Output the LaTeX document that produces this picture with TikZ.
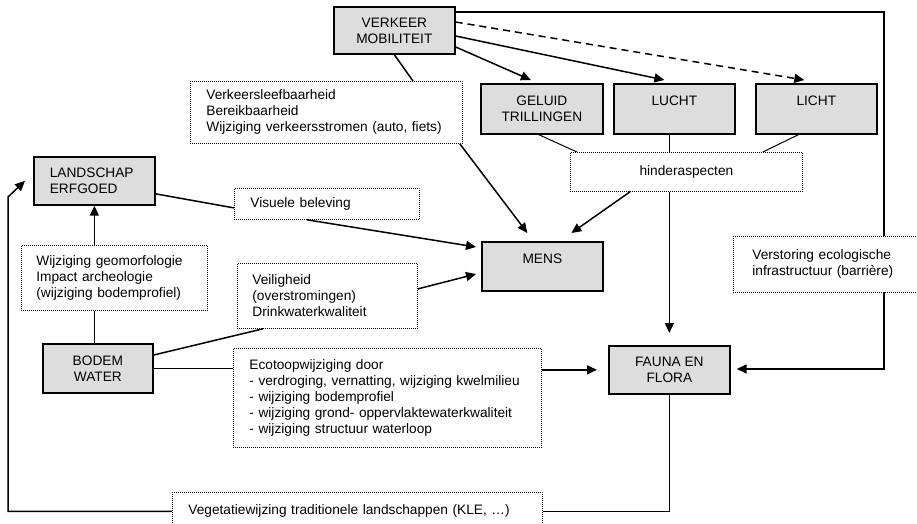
\documentclass[tikz,border=0pt]{standalone}
\usepackage{fontspec}
\setmainfont{Liberation Sans}
\usepackage{tikz}
\usetikzlibrary{calc, arrows.meta, positioning}

\definecolor{boxgray}{HTML}{DDDDDD}
\pgfdeclarelayer{bg}
\pgfsetlayers{bg,main}

\tikzset{
  box/.style={draw, line width=1.7pt, fill=boxgray, anchor=north west, align=center, inner sep=0pt},
  leftbox/.style={box, align=left, inner xsep=16pt},
  note/.style={draw, line width=0.8pt, dash pattern=on 0.8pt off 1.2pt, fill=white,
               anchor=north west, align=left, inner xsep=16pt, inner ysep=0pt},
  link/.style={line width=1.5pt},
  thinlink/.style={line width=1pt},
  arr/.style={link, -{Triangle[length=10pt,width=9pt]}},
}

\begin{document}
\begin{tikzpicture}[x=1pt, y=-1pt, font=\fontsize{13.7}{16}\selectfont]
           \useasboundingbox (0,0) rectangle (917,523);

           % main boxes
           \node[box, minimum width=121pt, minimum height=47pt] (verkeer) at (333,6) {VERKEER\\MOBILITEIT};
           \node[box, minimum width=122pt, minimum height=50pt] (geluid) at (480,83) {GELUID\\TRILLINGEN};
           \node[box, minimum width=121pt, minimum height=50pt] (lucht) at (613,83) {LUCHT\\~};
           \node[box, minimum width=121pt, minimum height=50pt] (licht) at (755,83) {LICHT\\~};
           \node[box, minimum width=121pt, minimum height=49pt] (mens) at (481,241) {MENS\\~};
           \node[leftbox, text width=89pt, minimum height=48pt] (landschap) at (33,156) {LANDSCHAP\\ERFGOED};
           \node[box, minimum width=110pt, minimum height=49pt] (bodem) at (42,343) {BODEM\\WATER};
           \node[box, minimum width=121pt, minimum height=48pt] (fauna) at (608,345) {FAUNA EN\\FLORA};

           % notes
           \node[note, text width=240pt, minimum height=62pt] (verkeernote) at (190,81)
                {Verkeersleefbaarheid\\Bereikbaarheid\\Wijziging verkeersstromen (auto, fiets)};
           \node[note, text width=153pt, minimum height=31pt] (visueel) at (234,188) {Visuele beleving};
           \node[note, text width=156pt, minimum height=65pt, inner xsep=15pt] (geomorf) at (21,245)
                {Wijziging geomorfologie\\Impact archeologie\\(wijziging bodemprofiel)};
           \node[note, text width=150pt, minimum height=65pt, inner xsep=15pt] (veilig) at (237,263)
                {Veiligheid\\(overstromingen)\\Drinkwaterkwaliteit};
           \node[note, align=center, minimum width=232pt, minimum height=39pt] (hinder) at (570,152) {hinderaspecten};
           \node[note, text width=276pt, minimum height=99pt] (ecotoop) at (233,348)
                {Ecotoopwijziging door\\- verdroging, vernatting, wijziging kwelmilieu\\- wijziging bodemprofiel\\
                 - wijziging grond- oppervlaktewaterkwaliteit\\- wijziging structuur waterloop};
           \node[note, text width=152pt, minimum height=56pt, inner xsep=19pt] (verstoring) at (733,236)
                {Verstoring ecologische\\infrastructuur (barrière)};
           \node[note, text width=338pt, minimum height=38pt, inner xsep=16pt] (vegetatie) at (172,492)
                {Vegetatiewijzing traditionele landschappen (KLE, …)};

           \coordinate (rtop) at (884,12);
           \coordinate (rbot) at (884,369);
           \coordinate (lcorner) at (8,197);
           \coordinate (luchtfoot) at ([xshift=-5pt]lucht.south);

    \begin{pgfonlayer}{bg}
           \draw[arr] ([yshift=-6pt]verkeer.north east) -- (rtop) -- (rbot) -- ([xshift=6pt]fauna.east |- rbot);
           \draw[arr] ([yshift=-41pt]verkeer.north east) -- ([xshift=-11pt,yshift=3pt]geluid.north);
           \draw[arr] ([yshift=-30pt]verkeer.north east) -- ([xshift=-10pt,yshift=3pt]lucht.north);
           \draw[arr, dashed, dash pattern=on 7pt off 5pt] ([yshift=-16pt]verkeer.north east) -- ([xshift=-12pt,yshift=3pt]licht.north);
           \draw[link] (verkeer.south) -- ([xshift=223pt]verkeernote.north west);
           \draw[arr] ([xshift=-3pt]verkeernote.south east) -- ([xshift=-15pt,yshift=8pt]mens.north);

           \draw[thinlink] ([xshift=-3pt]geluid.south) -- ([xshift=7pt]hinder.north west);
           \draw[thinlink] (luchtfoot) -- (luchtfoot |- hinder.north);
           \draw[thinlink] ([xshift=-18pt]licht.south) -- ([xshift=-40pt]hinder.north east);
           \draw[arr] ([xshift=60pt]hinder.south west) -- ([xshift=29pt,yshift=8pt]mens.north);
           \draw[arr, line width=1.2pt] (luchtfoot |- hinder.south) -- ([yshift=12pt]fauna.north);

           \draw[link] ([yshift=-13pt]landschap.east) -- ([yshift=-4pt]visueel.west);
           \draw[arr] ([xshift=73pt]visueel.south west) -- ([xshift=-5pt,yshift=-6pt]mens.north west);
           \draw[arr] (landschap.south |- geomorf.north) -- (landschap.south);
           \draw[link] (landschap.south |- bodem.north) -- (landschap.south |- geomorf.south);
           \draw[link] ([yshift=-12pt]bodem.north east) -- ([xshift=26pt]veilig.south west);
           \draw[arr] ([yshift=7pt]veilig.east) -- ([xshift=-5pt,yshift=-33pt]mens.north west);
           \draw[link] (bodem.east) -- (bodem.east -| ecotoop.west);
           \draw[arr] (ecotoop.east |- fauna.west) -- ([xshift=-11pt]fauna.west);

           \draw[link] (fauna.south) |- (vegetatie.east);
           \draw[arr] (vegetatie.west) -| (lcorner) -- ([xshift=-8pt]landschap.west);
    \end{pgfonlayer}
\end{tikzpicture}
\end{document}
